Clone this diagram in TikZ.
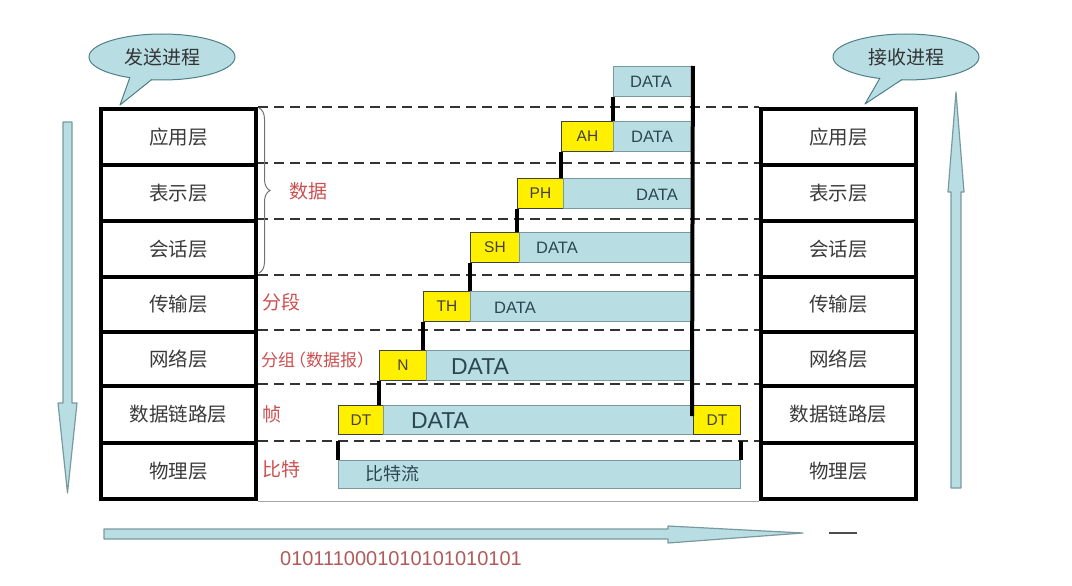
\documentclass[tikz,border=0pt]{standalone}
\usepackage{fontspec}
\setmainfont{Liberation Sans}
\newfontfamily\cjk{Noto Sans CJK SC}
\usetikzlibrary{shapes.geometric,decorations.pathreplacing}
\definecolor{lb}{HTML}{B8DEE4}
\definecolor{lbd}{HTML}{7A999E}
\definecolor{bubd}{HTML}{4E7F86}
\definecolor{yl}{HTML}{FFF000}
\definecolor{rd}{HTML}{CC4F4F}
\definecolor{bin}{HTML}{B05A5A}
\definecolor{tx}{HTML}{2C4651}
\definecolor{lt}{HTML}{3A3A3A}
\newcommand{\fs}[1]{\fontsize{#1}{#1}\selectfont}
\begin{document}
\begin{tikzpicture}[x=1pt,y=-1pt,
  layer/.style={draw=black, line width=4pt, minimum width=155pt, anchor=north west, inner sep=0pt, font=\cjk\fs{19.5}, text=lt},
  dbox/.style={draw=lbd, fill=lb, line width=0.9pt, anchor=north west, inner sep=0pt, minimum height=30pt},
  hbox/.style={draw=black!75, fill=yl, line width=0.9pt, anchor=north west, inner sep=0pt, minimum height=30pt, font=\fs{15.5}, text=black!75},
  dtext/.style={font=\fs{16.5}, text=tx, inner sep=0pt},
  btext/.style={font=\fs{23}, text=tx, inner sep=0pt},
  redlab/.style={font=\cjk\fs{19}, text=rd, anchor=west, inner sep=0pt},
  dashline/.style={dash pattern=on 10pt off 6pt, line width=2pt, draw=black!80},
  conn/.style={line width=4pt, draw=black},
  bubble/.style={ellipse, fill=lb, draw=bubd, line width=1pt, minimum width=146pt, minimum height=46pt, font=\cjk\fs{19}, text=black!80, inner sep=0pt},
  arr/.style={fill=lb, draw=lbd, line width=1.2pt, line join=round}
]
\useasboundingbox (0,0) rectangle (1072,586);

% ---------- protocol stacks ----------
\foreach \nm/\y/\h/\t in {1/107/56/应用层, 2/163/56/表示层, 3/219/56/会话层, 4/275/55/传输层, 5/330/54/网络层, 6/384/57/数据链路层, 7/441/56/物理层}{
  \node[layer, minimum height=\h pt] (L\nm) at (99,\y) {\t};
  \node[layer, minimum height=\h pt] (R\nm) at (759,\y) {\t};
}

% ---------- dashed level lines ----------
\foreach \i in {1,...,7}{
  \draw[dashline] (L\i.north east) -- (R\i.north west);
}
\draw[black!35, line width=1pt] (L7.south east) -- (R7.south west);

% ---------- brace and red labels ----------
\draw[black!55, line width=1pt, decorate, decoration={brace, amplitude=11pt}] (259,108) -- (259,273);
\node[redlab] (lbdata) at (289,191) {数据};
\node[redlab] (lbseg) at (262,302) {分段};
\node[redlab, font=\cjk\fs{17}] (lbpkt) at (261,360) {分组\kern-6pt（数据报）};
\node[redlab] (lbframe) at (262,414) {帧};
\node[redlab] (lbbit) at (262,469) {比特};

% ---------- encapsulation boxes ----------
\node[dbox, minimum width=79pt] (D0) at (613,66) {};
\node[hbox, minimum width=52pt] (AH) at (561,121) {AH};
\node[dbox, minimum width=79pt] (D1) at (613,121) {};
\node[hbox, minimum width=46pt] (PH) at (517,178) {PH};
\node[dbox, minimum width=129pt] (D2) at (563,178) {};
\node[hbox, minimum width=49pt] (SH) at (470,232) {SH};
\node[dbox, minimum width=173pt] (D3) at (519,232) {};
\node[hbox, minimum width=47pt] (TH) at (423,291) {TH};
\node[dbox, minimum width=222pt] (D4) at (470,291) {};
\node[hbox, minimum width=47pt] (N) at (379,350) {N};
\node[dbox, minimum width=266pt] (D5) at (426,350) {};
\node[hbox, minimum width=45pt, minimum height=29pt] (DTL) at (338,405) {DT};
\node[dbox, minimum width=310pt, minimum height=29pt] (D6) at (383,405) {};
\node[hbox, minimum width=47pt, minimum height=29pt] (DTR) at (693,405) {DT};
\node[dbox, minimum width=402pt, minimum height=28pt] (BITS) at (338,460) {};

\node[dtext] (t0) at (651,82) {DATA};
\node[dtext] (t1) at (652,137) {DATA};
\node[dtext] (t2) at (657,195) {DATA};
\node[dtext] (t3) at (557,248) {DATA};
\node[dtext] (t4) at (515,308) {DATA};
\node[btext] (t5) at (480,367) {DATA};
\node[btext] (t6) at (440,421) {DATA};
\node[font=\cjk\fs{18}, text=tx, inner sep=0pt] (t7) at (392,474) {比特流};

% ---------- thick connectors ----------
\coordinate (bigend) at (692,416);
\draw[conn] (D0.north east) -- (bigend);
\draw[conn] (D0.south west) -- (D1.north west);
\draw[conn] (AH.south west) -- (AH.south west |- D2.north);
\draw[conn] (PH.south west) -- (PH.south west |- D3.north);
\draw[conn] (SH.south west) -- (SH.south west |- D4.north);
\draw[conn] (TH.south west) -- (TH.south west |- D5.north);
\draw[conn] (N.south west) -- (N.south west |- D6.north);
\draw[conn] (BITS.north west) -- (BITS.north west |- L7.north);
\draw[conn] (BITS.north east) -- (BITS.north east |- L7.north);

% ---------- speech bubbles ----------
\node[bubble] (send) at (162,57) {发送进程};
\fill[lb] (130,77.2) -- (120,105) -- (152,79.3) -- (140,70) -- cycle;
\draw[bubd, line width=1pt, line join=round] (130,77.2) -- (120,105) -- (152,79.3);
\node[bubble] (recv) at (906,57) {接收进程};
\fill[lb] (880,78) -- (865,104) -- (902,79.5) -- (890,70) -- cycle;
\draw[bubd, line width=1pt, line join=round] (880,78) -- (865,104) -- (902,79.5);

% ---------- big arrows ----------
\draw[arr] (63,122) -- (72,122) -- (72,403) -- (77,403) -- (67.5,493) -- (58,403) -- (63,403) -- cycle;
\draw[arr] (951,488) -- (961,488) -- (961,192) -- (964,192) -- (956,92) -- (948,192) -- (951,192) -- cycle;
\draw[arr] (104,529) -- (668,529) -- (668,526) -- (803,533) -- (668,543) -- (668,539) -- (104,539) -- cycle;
\draw[black!70, line width=2pt] (829,533) -- (857,533);

% ---------- bit string ----------
\node[font=\fs{20}, text=bin, inner sep=0pt] (binary) at (401,559) {0101110001010101010101};
\end{tikzpicture}
\end{document}
